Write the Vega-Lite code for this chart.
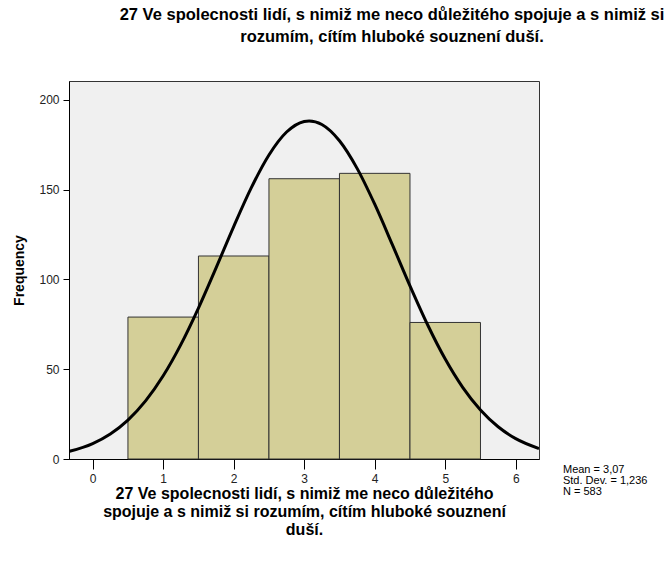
{
  "$schema": "https://vega.github.io/schema/vega-lite/v6.json",
  "width": 470,
  "height": 378,
  "autosize": "none",
  "padding": {"left": 69, "top": 81, "right": 130, "bottom": 106},
  "background": "white",
  "config": {
    "font": "Liberation Sans",
    "view": {"fill": "#f0f0f0", "stroke": "#333333", "strokeWidth": 1}
  },
  "title": {
    "text": ["27 Ve spolecnosti lidí, s nimiž me neco důležitého spojuje a s nimiž si", "rozumím, cítím hluboké souznení duší."],
    "fontSize": 16.5,
    "fontWeight": "bold",
    "font": "Liberation Sans",
    "color": "#000000",
    "anchor": "middle",
    "dx": 88,
    "offset": 36,
    "lineHeight": 22
  },
  "datasets": {
    "bars": [
      {"bin_start": 0.5, "bin_end": 1.5, "count": 79},
      {"bin_start": 1.5, "bin_end": 2.5, "count": 113},
      {"bin_start": 2.5, "bin_end": 3.5, "count": 156},
      {"bin_start": 3.5, "bin_end": 4.5, "count": 159},
      {"bin_start": 4.5, "bin_end": 5.5, "count": 76}
    ],
    "curve": [
      {"x": -0.34, "y": 4.19},
      {"x": 0, "y": 8.61},
      {"x": 0.25, "y": 13.94},
      {"x": 0.5, "y": 21.67},
      {"x": 0.75, "y": 32.33},
      {"x": 1, "y": 46.3},
      {"x": 1.25, "y": 63.65},
      {"x": 1.5, "y": 84.0},
      {"x": 1.75, "y": 106.4},
      {"x": 2, "y": 129.38},
      {"x": 2.25, "y": 151.02},
      {"x": 2.5, "y": 169.21},
      {"x": 2.75, "y": 182.0},
      {"x": 3, "y": 187.9},
      {"x": 3.07, "y": 188.2},
      {"x": 3.25, "y": 186.21},
      {"x": 3.5, "y": 177.15},
      {"x": 3.75, "y": 161.77},
      {"x": 4, "y": 141.8},
      {"x": 4.25, "y": 119.32},
      {"x": 4.5, "y": 96.38},
      {"x": 4.75, "y": 74.72},
      {"x": 5, "y": 55.61},
      {"x": 5.25, "y": 39.73},
      {"x": 5.5, "y": 27.25},
      {"x": 5.75, "y": 17.93},
      {"x": 6, "y": 11.33},
      {"x": 6.33, "y": 5.81}
    ],
    "stats": [
      {"text": "Mean = 3,07|Std. Dev. = 1,236|N = 583"}
    ]
  },
  "layer": [
    {
      "data": {"name": "bars"},
      "mark": {"type": "rect", "fill": "#d4cf98", "stroke": "#333333", "strokeWidth": 1},
      "encoding": {
        "x": {
          "field": "bin_start", "type": "quantitative",
          "scale": {"domain": [-0.336, 6.33], "nice": false, "zero": false},
          "axis": {
            "values": [0, 1, 2, 3, 4, 5, 6],
            "format": "d",
            "grid": false,
            "domainColor": "#000000",
            "tickColor": "#000000",
            "tickSize": 10,
            "labelFontSize": 12,
            "labelColor": "#222222",
            "labelPadding": 4,
            "title": ["27 Ve spolecnosti lidí, s nimiž me neco důležitého", "spojuje a s nimiž si rozumím, cítím hluboké souznení", "duší."],
            "titleFontSize": 16,
            "titleFontWeight": "bold",
            "titleColor": "#000000",
            "titleLineHeight": 18,
            "titlePadding": 1
          }
        },
        "x2": {"field": "bin_end"},
        "y": {
          "field": "count", "type": "quantitative",
          "scale": {"domain": [0, 210.4], "nice": false},
          "axis": {
            "values": [0, 50, 100, 150, 200],
            "grid": false,
            "domainColor": "#000000",
            "tickColor": "#000000",
            "tickSize": 6,
            "labelFontSize": 12,
            "labelColor": "#222222",
            "labelPadding": 4,
            "title": "Frequency",
            "titleFontSize": 14,
            "titleFontWeight": "bold",
            "titleColor": "#000000",
            "titlePadding": 12
          }
        },
        "y2": {"datum": 0}
      }
    },
    {
      "data": {"name": "curve"},
      "mark": {"type": "line", "color": "#000000", "strokeWidth": 3, "interpolate": "monotone", "clip": true},
      "encoding": {
        "x": {"field": "x", "type": "quantitative"},
        "y": {"field": "y", "type": "quantitative"}
      }
    },
    {
      "data": {"name": "stats"},
      "mark": {"type": "text", "align": "left", "baseline": "middle", "fontSize": 11, "lineBreak": "|", "lineHeight": 11, "color": "#000000", "clip": false},
      "encoding": {
        "x": {"datum": 6.67, "type": "quantitative"},
        "y": {"datum": -6, "type": "quantitative"},
        "text": {"field": "text"}
      }
    }
  ]
}
